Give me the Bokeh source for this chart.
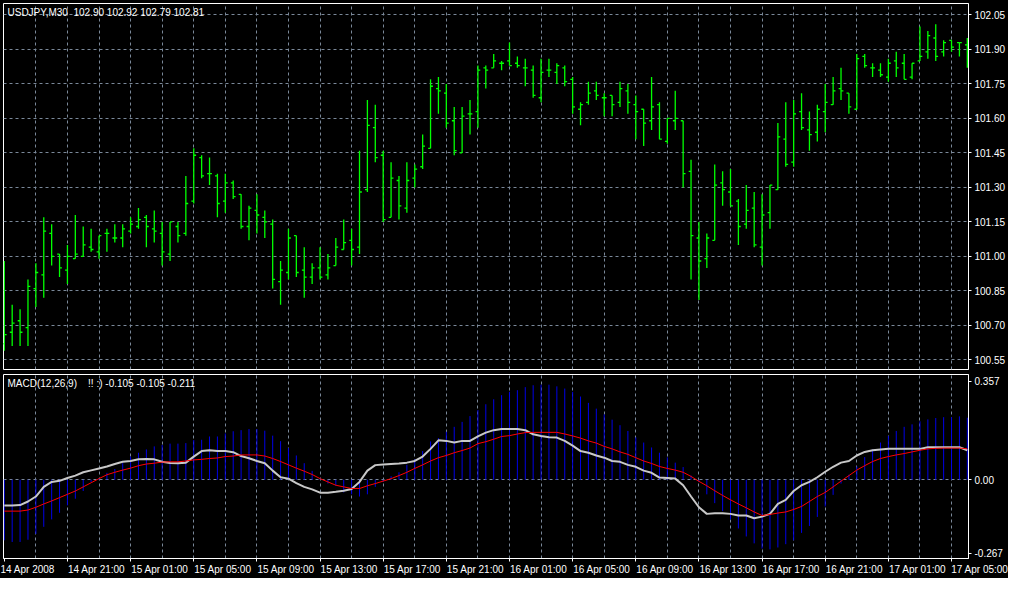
from bokeh.plotting import figure
from bokeh.layouts import column
from bokeh.models import FixedTicker, Range1d, Label, PrintfTickFormatter
from bokeh.embed import file_html
from bokeh.resources import INLINE

# ---------------- data (USDJPY, M30) ----------------
open_ = [100.62, 100.67, 100.72, 100.69, 100.86, 100.92, 101.10, 101.01, 100.94, 100.99,
         101.00, 101.04, 101.02, 101.10, 101.08, 101.08, 101.11, 101.13, 101.17, 101.12,
         101.10, 101.01, 101.13, 101.10, 101.24, 101.43, 101.36, 101.35, 101.24, 101.32,
         101.27, 101.13, 101.20, 101.17, 101.14, 100.89, 100.93, 101.09, 100.94, 100.91,
         100.95, 100.92, 100.96, 101.03, 101.07, 101.04, 101.29, 101.56, 101.44, 101.17,
         101.33, 101.21, 101.34, 101.39, 101.47, 101.73, 101.71, 101.59, 101.45, 101.62,
         101.63, 101.82, 101.82, 101.84, 101.85, 101.84, 101.82, 101.81, 101.69, 101.81,
         101.80, 101.82, 101.77, 101.64, 101.67, 101.72, 101.69, 101.70, 101.67, 101.72,
         101.66, 101.64, 101.59, 101.66, 101.50, 101.59, 101.59, 101.37, 101.08, 100.99,
         101.07, 101.32, 101.28, 101.24, 101.14, 101.21, 101.04, 101.19, 101.29, 101.51,
         101.41, 101.63, 101.55, 101.54, 101.63, 101.66, 101.73, 101.71, 101.64, 101.87,
         101.82, 101.81, 101.78, 101.85, 101.84, 101.78, 101.85, 101.89, 101.95, 101.89,
         101.94, 101.93, 101.92]
high = [100.98, 100.79, 100.77, 100.90, 100.97, 101.17, 101.14, 101.01, 101.05, 101.18,
        101.13, 101.12, 101.09, 101.12, 101.14, 101.14, 101.17, 101.21, 101.18, 101.20,
        101.15, 101.15, 101.15, 101.35, 101.47, 101.44, 101.43, 101.36, 101.36, 101.33,
        101.27, 101.22, 101.27, 101.20, 101.16, 100.98, 101.12, 101.09, 101.04, 100.97,
        101.04, 101.01, 101.08, 101.16, 101.12, 101.46, 101.68, 101.66, 101.46, 101.41,
        101.35, 101.41, 101.40, 101.53, 101.77, 101.78, 101.75, 101.65, 101.65, 101.68,
        101.83, 101.83, 101.88, 101.85, 101.93, 101.87, 101.86, 101.83, 101.86, 101.86,
        101.84, 101.83, 101.78, 101.67, 101.76, 101.76, 101.71, 101.70, 101.76, 101.75,
        101.70, 101.64, 101.78, 101.67, 101.60, 101.72, 101.59, 101.42, 101.15, 101.10,
        101.40, 101.37, 101.38, 101.25, 101.31, 101.28, 101.27, 101.31, 101.58, 101.67,
        101.68, 101.71, 101.63, 101.66, 101.75, 101.78, 101.82, 101.71, 101.88, 101.88,
        101.84, 101.84, 101.86, 101.89, 101.88, 101.84, 102.00, 101.98, 102.01, 101.94,
        101.94, 101.93, 101.95]
low = [100.59, 100.61, 100.61, 100.61, 100.78, 100.82, 100.96, 100.91, 100.88, 100.99,
       101.00, 101.02, 100.99, 101.02, 101.06, 101.04, 101.10, 101.12, 101.04, 101.06,
       100.96, 100.98, 101.06, 101.09, 101.23, 101.34, 101.31, 101.17, 101.19, 101.25,
       101.12, 101.07, 101.10, 101.08, 100.86, 100.79, 100.90, 100.91, 100.82, 100.88,
       100.90, 100.90, 100.96, 101.03, 100.96, 101.01, 101.28, 101.41, 101.15, 101.17,
       101.16, 101.19, 101.30, 101.38, 101.47, 101.62, 101.56, 101.44, 101.45, 101.53,
       101.56, 101.73, 101.82, 101.81, 101.83, 101.82, 101.74, 101.69, 101.67, 101.78,
       101.75, 101.74, 101.62, 101.57, 101.66, 101.68, 101.61, 101.61, 101.65, 101.62,
       101.51, 101.48, 101.55, 101.51, 101.49, 101.55, 101.30, 100.90, 100.81, 100.95,
       101.07, 101.22, 101.22, 101.05, 101.12, 101.04, 100.96, 101.12, 101.29, 101.39,
       101.39, 101.55, 101.46, 101.50, 101.54, 101.66, 101.68, 101.62, 101.64, 101.82,
       101.78, 101.78, 101.76, 101.78, 101.77, 101.77, 101.85, 101.86, 101.85, 101.87,
       101.89, 101.87, 101.82]
close = [100.66, 100.71, 100.67, 100.87, 100.93, 101.11, 101.00, 100.95, 101.00, 101.01,
         101.05, 101.03, 101.09, 101.10, 101.08, 101.12, 101.14, 101.16, 101.13, 101.11,
         101.02, 101.15, 101.09, 101.23, 101.44, 101.35, 101.36, 101.23, 101.32, 101.26,
         101.13, 101.21, 101.18, 101.15, 100.90, 100.94, 101.08, 100.93, 100.91, 100.95,
         100.91, 100.95, 101.04, 101.06, 101.03, 101.28, 101.57, 101.43, 101.16, 101.34,
         101.22, 101.33, 101.38, 101.48, 101.74, 101.72, 101.58, 101.46, 101.61, 101.62,
         101.81, 101.81, 101.85, 101.84, 101.83, 101.83, 101.82, 101.70, 101.80, 101.81,
         101.83, 101.76, 101.65, 101.66, 101.71, 101.70, 101.69, 101.66, 101.73, 101.67,
         101.63, 101.58, 101.65, 101.51, 101.60, 101.60, 101.36, 101.09, 100.98, 101.08,
         101.31, 101.29, 101.22, 101.13, 101.20, 101.05, 101.18, 101.31, 101.52, 101.40,
         101.62, 101.56, 101.53, 101.64, 101.67, 101.72, 101.72, 101.65, 101.86, 101.83,
         101.82, 101.79, 101.84, 101.82, 101.77, 101.84, 101.87, 101.96, 101.87, 101.93,
         101.91, 101.93, 101.92]

macd_hist = [-0.220, -0.226, -0.226, -0.218, -0.197, -0.171, -0.144, -0.120, -0.093, -0.069,
             -0.041, -0.008, 0.006, 0.025, 0.039, 0.060, 0.084, 0.098, 0.110, 0.121,
             0.126, 0.131, 0.131, 0.133, 0.144, 0.145, 0.157, 0.157, 0.168, 0.176,
             0.180, 0.184, 0.184, 0.178, 0.160, 0.140, 0.115, 0.088, 0.060, 0.032,
             0.006, -0.014, -0.022, -0.046, -0.053, -0.061, -0.053, -0.026, -0.008, 0.013,
             0.027, 0.054, 0.074, 0.104, 0.139, 0.151, 0.174, 0.192, 0.210, 0.231,
             0.253, 0.274, 0.292, 0.307, 0.319, 0.325, 0.336, 0.343, 0.345, 0.345,
             0.339, 0.331, 0.319, 0.302, 0.279, 0.258, 0.237, 0.218, 0.198, 0.177,
             0.154, 0.135, 0.117, 0.098, 0.081, 0.062, 0.046, 0.015, -0.008, -0.053,
             -0.085, -0.114, -0.144, -0.177, -0.206, -0.231, -0.250, -0.253, -0.246, -0.234,
             -0.220, -0.193, -0.168, -0.135, -0.097, -0.055, -0.014, 0.018, 0.048, 0.082,
             0.110, 0.135, 0.159, 0.177, 0.192, 0.201, 0.212, 0.219, 0.224, 0.227,
             0.227, 0.230, 0.225]
macd_main = [-0.094, -0.094, -0.092, -0.079, -0.061, -0.026, -0.008, -0.004, 0.006, 0.015,
             0.027, 0.034, 0.041, 0.048, 0.057, 0.065, 0.068, 0.074, 0.075, 0.074,
             0.065, 0.061, 0.060, 0.062, 0.084, 0.104, 0.107, 0.104, 0.104, 0.100,
             0.086, 0.078, 0.068, 0.060, 0.033, 0.009, 0.004, -0.012, -0.026, -0.035,
             -0.047, -0.047, -0.044, -0.040, -0.034, -0.008, 0.033, 0.053, 0.055, 0.057,
             0.059, 0.062, 0.068, 0.084, 0.112, 0.143, 0.141, 0.135, 0.141, 0.141,
             0.157, 0.171, 0.180, 0.184, 0.184, 0.184, 0.180, 0.165, 0.159, 0.154,
             0.153, 0.141, 0.124, 0.104, 0.098, 0.088, 0.080, 0.068, 0.065, 0.054,
             0.047, 0.033, 0.025, 0.008, 0.006, 0.004, -0.020, -0.061, -0.100, -0.124,
             -0.122, -0.122, -0.124, -0.130, -0.130, -0.140, -0.134, -0.124, -0.088, -0.073,
             -0.041, -0.020, -0.008, 0.009, 0.029, 0.047, 0.062, 0.068, 0.088, 0.101,
             0.107, 0.110, 0.112, 0.112, 0.112, 0.112, 0.112, 0.118, 0.118, 0.118,
             0.118, 0.118, 0.107]
macd_signal = [-0.114, -0.114, -0.114, -0.110, -0.100, -0.088, -0.077, -0.065, -0.053, -0.041,
               -0.026, -0.011, 0.004, 0.018, 0.027, 0.035, 0.042, 0.051, 0.057, 0.060,
               0.064, 0.065, 0.065, 0.068, 0.072, 0.074, 0.077, 0.079, 0.084, 0.086,
               0.090, 0.090, 0.090, 0.086, 0.077, 0.066, 0.054, 0.042, 0.031, 0.019,
               0.004, -0.008, -0.020, -0.026, -0.032, -0.032, -0.022, -0.014, -0.005, 0.004,
               0.015, 0.027, 0.041, 0.054, 0.068, 0.080, 0.088, 0.098, 0.106, 0.115,
               0.131, 0.138, 0.147, 0.157, 0.160, 0.166, 0.171, 0.172, 0.172, 0.172,
               0.172, 0.166, 0.159, 0.151, 0.141, 0.133, 0.121, 0.112, 0.101, 0.092,
               0.080, 0.068, 0.059, 0.048, 0.041, 0.035, 0.027, 0.012, -0.006, -0.022,
               -0.040, -0.057, -0.073, -0.088, -0.102, -0.117, -0.130, -0.126, -0.121, -0.117,
               -0.108, -0.097, -0.079, -0.061, -0.046, -0.026, -0.005, 0.015, 0.035, 0.051,
               0.066, 0.077, 0.084, 0.090, 0.095, 0.101, 0.107, 0.112, 0.114, 0.115,
               0.115, 0.115, 0.112]

price_ticks = [100.55, 100.70, 100.85, 101.00, 101.15, 101.30, 101.45, 101.60, 101.75, 101.90, 102.05]
macd_ticks = [-0.267, 0.0, 0.357]
macd_tick_labels = ["-0.267", "0.00", "0.357"]
time_labels = ["14 Apr 2008", "14 Apr 21:00", "15 Apr 01:00", "15 Apr 05:00", "15 Apr 09:00",
               "15 Apr 13:00", "15 Apr 17:00", "15 Apr 21:00", "16 Apr 01:00", "16 Apr 05:00",
               "16 Apr 09:00", "16 Apr 13:00", "16 Apr 17:00", "16 Apr 21:00", "17 Apr 01:00",
               "17 Apr 05:00"]
bars_per_label = 8      # 4 hours of 30-minute bars
bars_per_grid = 4       # 2 hours

price_title = "USDJPY,M30\u00a0\u00a0102.90 102.92 102.79 102.81"
macd_title = "MACD(12,26,9)\u00a0\u00a0\u00a0\u00a0!! :) -0.105 -0.105 -0.211"

# ---------------- styling ----------------
FONT = "Liberation Sans"
FS = "10px"
GRID = "#7a8899"
BAR = "#00ff00"
n = len(close)
idx = list(range(n))
tick = 0.3
# labels are drawn centred by Bokeh; leading no-break spaces make them start at the tick
LEFT_PAD = "\u00a0" * 21

xr = Range1d(-0.1, n - 1 + 0.15)


def style(p):
    p.background_fill_color = "black"
    p.border_fill_color = "black"
    p.outline_line_color = "white"
    p.outline_line_width = 1
    for ax in p.yaxis:
        ax.axis_line_color = "white"
        ax.major_tick_line_color = "white"
        ax.major_tick_out = 3
        ax.major_tick_in = 0
        ax.minor_tick_line_color = None
        ax.major_label_text_color = "white"
        ax.major_label_text_font = FONT
        ax.major_label_text_font_size = FS
        ax.major_label_standoff = 3
    p.xgrid.ticker = FixedTicker(ticks=list(range(bars_per_grid, n, bars_per_grid)))
    p.xgrid.grid_line_color = GRID
    p.xgrid.grid_line_dash = "3 3"
    p.ygrid.grid_line_color = GRID
    p.ygrid.grid_line_dash = "3 3"


# ---- price panel ----
p1 = figure(width=1008, height=371, x_range=xr, y_range=Range1d(100.508, 102.10),
            output_backend="svg", toolbar_location=None, y_axis_location="right",
            x_axis_location=None, min_border_left=3, min_border_right=40,
            min_border_top=3, min_border_bottom=2)
style(p1)
p1.yaxis.ticker = FixedTicker(ticks=price_ticks)
p1.yaxis.formatter = PrintfTickFormatter(format="%.2f")

p1.segment(x0=idx, y0=low, x1=idx, y1=high, line_color=BAR, line_width=1.3)
p1.segment(x0=[i - tick for i in idx], y0=open_, x1=idx, y1=open_, line_color=BAR, line_width=1.3)
p1.segment(x0=idx, y0=close, x1=[i + tick for i in idx], y1=close, line_color=BAR, line_width=1.3)

p1.add_layout(Label(x=xr.start, y=p1.y_range.end, x_offset=4, y_offset=-3, text=price_title,
                    text_color="white", text_font=FONT, text_font_size=FS,
                    text_baseline="top", text_align="left"))

# ---- MACD panel ----
p2 = figure(width=1008, height=207, x_range=xr, y_range=Range1d(-0.286, 0.382),
            output_backend="svg", toolbar_location=None, y_axis_location="right",
            min_border_left=3, min_border_right=40, min_border_top=3, min_border_bottom=20)
style(p2)
p2.yaxis.ticker = FixedTicker(ticks=macd_ticks)
p2.yaxis.major_label_overrides = dict(zip(macd_ticks, macd_tick_labels))
p2.ygrid.ticker = FixedTicker(ticks=[0.0])

label_pos = [k * bars_per_label for k in range(len(time_labels))]
ax = p2.xaxis[0]
ax.ticker = FixedTicker(ticks=label_pos)
# the first label sits at the canvas edge, where Bokeh already pushes it inside
ax.major_label_overrides = {pos: (lab if pos == label_pos[0] else LEFT_PAD + lab)
                            for pos, lab in zip(label_pos, time_labels)}
ax.axis_line_color = "white"
ax.major_tick_line_color = "white"
ax.major_tick_out = 3
ax.major_tick_in = 0
ax.minor_tick_line_color = None
ax.major_label_text_color = "white"
ax.major_label_text_font = FONT
ax.major_label_text_font_size = FS
ax.major_label_standoff = 2

p2.segment(x0=idx, y0=[0.0] * n, x1=idx, y1=macd_hist, line_color="#0000e6", line_width=1)
p2.line(idx, macd_main, line_color="#c8c8c8", line_width=2)
p2.line(idx, macd_signal, line_color="#ff0000", line_width=1)

p2.add_layout(Label(x=xr.start, y=p2.y_range.end, x_offset=4, y_offset=-3, text=macd_title,
                    text_color="white", text_font=FONT, text_font_size=FS,
                    text_baseline="top", text_align="left"))

layout = column(p1, p2, spacing=0, styles={"background-color": "black"})
open("out.html", "w").write(file_html(layout, INLINE))
